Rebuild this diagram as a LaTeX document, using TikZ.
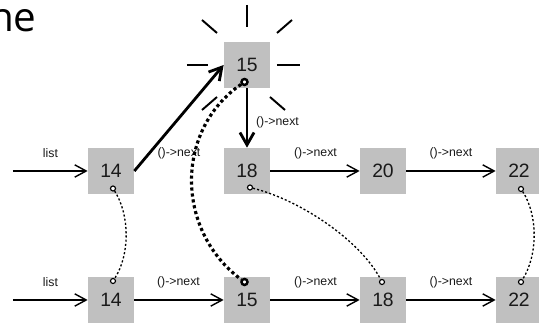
\documentclass[tikz,border=0pt]{standalone}
\usepackage{fontspec}
\setmainfont{Liberation Sans}
\newfontfamily\headfont{Open Sans}
\usetikzlibrary{arrows.meta}
\definecolor{boxgray}{HTML}{C0C0C0}
\definecolor{ink}{HTML}{1A1A1A}

\begin{document}
\begin{tikzpicture}[x=0.02cm,y=-0.02cm,
  cell/.style={fill=boxgray, minimum size=0.92cm, inner sep=0pt,
    font=\fontsize{11}{13}\selectfont, text=ink},
  link/.style={line width=0.8pt, -{Straight Barb[length=6.5pt,width=7pt]}},
  boldlink/.style={line width=1.6pt, -{Straight Barb[length=7pt,width=8pt]}},
  lbl/.style={font=\fontsize{7}{8}\selectfont, text=ink, inner sep=0pt},
  hook/.style={circle, draw, fill=white, inner sep=0pt, minimum size=0.1cm, line width=0.65pt},
  heavyhook/.style={circle, draw, fill=white, inner sep=0pt, minimum size=0.12cm, line width=1.4pt},
  trail/.style={line width=0.75pt, dash pattern=on 1.2pt off 1.2pt},
  heavytrail/.style={line width=1.8pt, dash pattern=on 1.8pt off 1.6pt},
  ray/.style={line width=1.1pt}]

\fill[white] (0,0) rectangle (539,323);
\useasboundingbox (0,0) rectangle (539,323);

% heading fragment
\node[anchor=base east, inner sep=0pt, font=\headfont\fontsize{23}{23}\selectfont] (title) at (37,32) {ne};

% highlighted new node with rays
\node[cell] (t15) at (247,65) {15};
\draw[ray] (247,5) -- (247,27);
\draw[ray] (187,65) -- (208,65);
\draw[ray] (277,65) -- (300,65);
\draw[ray] (202,20) -- (217,33);
\draw[ray] (277,33) -- (292,20);
\draw[ray] (202,110) -- (217,97);
\draw[ray] (270,97) -- (285,110);

% list after insertion
\node[cell] (m14) at (111,171) {14};
\node[cell] (m18) at (247,171) {18};
\node[cell] (m20) at (383,171) {20};
\node[cell] (m22) at (519,171) {22};
\coordinate (min) at (13,171);

% list before insertion
\node[cell] (b14) at (111,300) {14};
\node[cell] (b15) at (247,300) {15};
\node[cell] (b18) at (383,300) {18};
\node[cell] (b22) at (519,300) {22};
\coordinate (bin) at (13,300);

% links of the upper list
\draw[link] (min) -- (m14.west);
\node[lbl] (lm0) at (50.5,153) {list};
\node[lbl] (lm1) at (179,153) {()->next};
\draw[link] (m18.east) -- (m20.west);
\node[lbl] (lm2) at (315.5,153) {()->next};
\draw[link] (m20.east) -- (m22.west);
\node[lbl] (lm3) at (451,153) {()->next};
\draw[boldlink] (m14.east) -- (t15.west);
\draw[boldlink] (t15.south) -- (m18.north);
\node[lbl] (lt) at (277.5,122) {()->next};

% links of the lower list
\draw[link] (bin) -- (b14.west);
\node[lbl] (lb0) at (50.5,282) {list};
\draw[link] (b14.east) -- (b15.west);
\node[lbl] (lb1) at (178.5,282) {()->next};
\draw[link] (b15.east) -- (b18.west);
\node[lbl] (lb2) at (315.5,282) {()->next};
\draw[link] (b18.east) -- (b22.west);
\node[lbl] (lb3) at (451,282) {()->next};

% correspondence hooks
\node[hook] (hm14) at (113,188.5) {};
\node[hook] (hb14) at (113,281) {};
\node[heavyhook] (ht15) at (244.5,82) {};
\node[heavyhook] (hb15) at (244.5,282) {};
\node[hook] (hm18) at (250,187.5) {};
\node[hook] (hb18) at (382,282) {};
\node[hook] (hm22) at (521,189) {};
\node[hook] (hb22) at (521,282) {};

\draw[trail] (hm14) .. controls (130,215) and (130,255) .. (hb14);
\draw[heavytrail] (ht15) .. controls (175,130) and (175,230) .. (hb15);
\draw[trail] (hm18) .. controls (300,200) and (360,240) .. (hb18);
\draw[trail] (hm22) .. controls (538,215) and (538,255) .. (hb22);
\end{tikzpicture}
\end{document}
